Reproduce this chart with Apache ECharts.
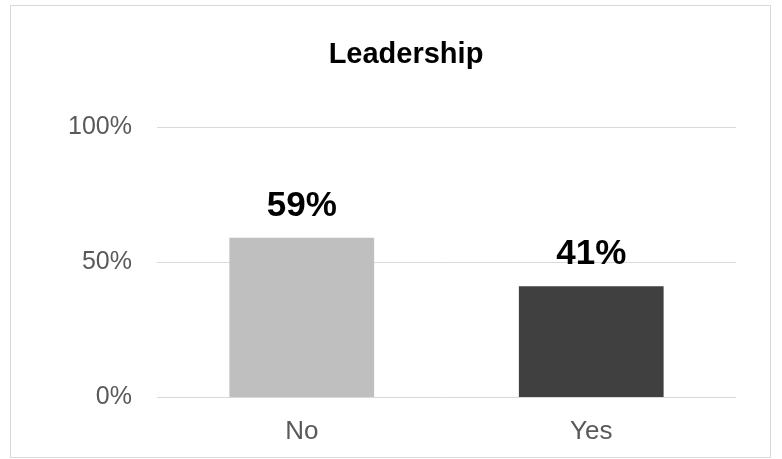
<!DOCTYPE html>
<html><head><meta charset="utf-8">
<script src="https://cdn.jsdelivr.net/npm/echarts@6/dist/echarts.min.js"></script>
<style>html,body{margin:0;padding:0;background:#fff}#c{width:782px;height:459px;position:relative}
#b{position:absolute;left:10px;top:5px;width:761px;height:453px;border:1px solid #d9d9d9;box-sizing:border-box;pointer-events:none}</style>
</head><body><div id="c"></div><div id="b"></div>
<script>
const categories = ['No', 'Yes'];
const values = [59, 41];
const colors = ['#bfbfbf', '#404040'];
const yTicks = [0, 50, 100];
const chart = echarts.init(document.getElementById('c'));
chart.setOption({
  animation: false,
  title: { text: 'Leadership', left: 401, top: 35, textAlign: 'center',
    textStyle: { fontFamily: 'Liberation Sans', fontSize: 29, fontWeight: 'bold', color: '#000' } },
  grid: { left: 157, right: 46, top: 127, bottom: 62 },
  xAxis: { type: 'category', data: categories,
    axisLine: { show: false }, axisTick: { show: false },
    axisLabel: { fontFamily: 'Liberation Sans', fontSize: 26, color: '#595959', margin: 22 } },
  yAxis: { type: 'value', min: 0, max: 100, interval: 50,
    axisLine: { show: false }, axisTick: { show: false },
    splitLine: { lineStyle: { color: '#d9d9d9', width: 1 } },
    axisLabel: { fontFamily: 'Liberation Sans', fontSize: 25, color: '#595959', margin: 25,
      formatter: v => yTicks.includes(v) ? v + '%' : '' } },
  series: [{ type: 'bar', barWidth: '50%',
    data: values.map((v, i) => ({ value: v, itemStyle: { color: colors[i] } })),
    label: { show: true, position: 'top', distance: 14, formatter: '{c}%',
      fontFamily: 'Liberation Sans', fontSize: 35, fontWeight: 'bold', color: '#000' } }]
});
</script></body></html>
